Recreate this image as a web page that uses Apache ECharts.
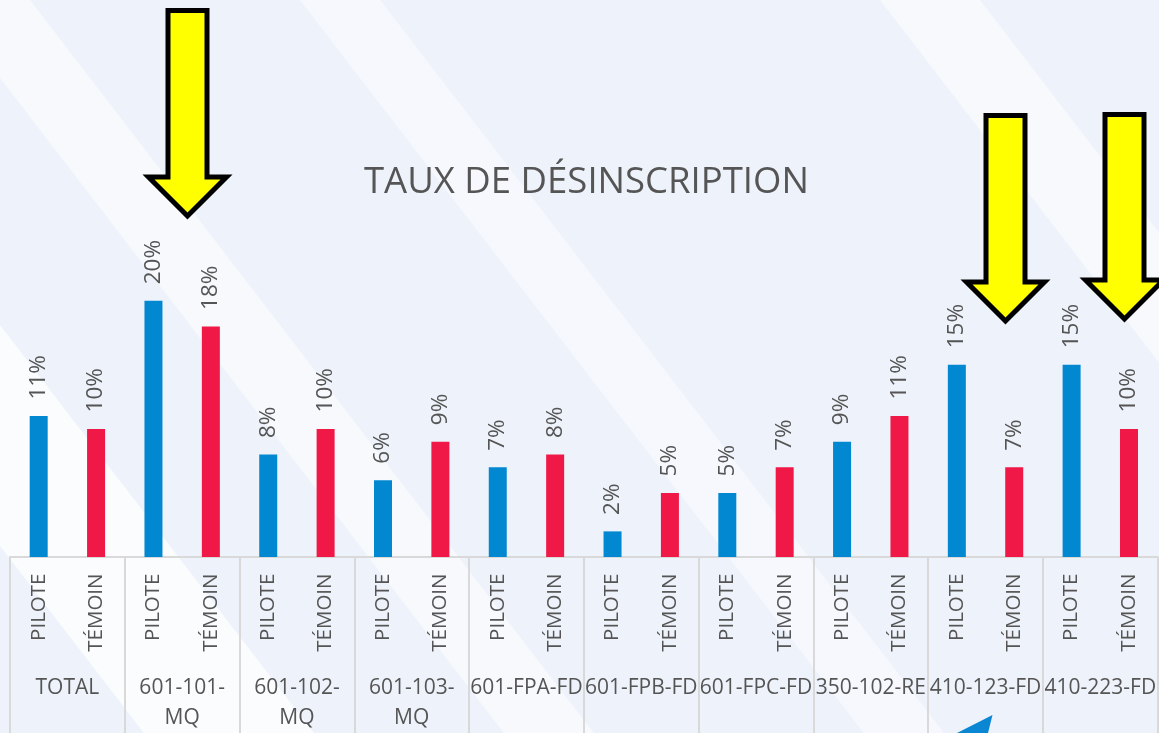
<!DOCTYPE html>
<html>
<head>
<meta charset="utf-8">
<script src="https://cdn.jsdelivr.net/npm/echarts@6/dist/echarts.min.js"></script>
<style>
  html, body { margin: 0; padding: 0; }
  #chart { width: 1159px; height: 733px; }
</style>
</head>
<body>
<div id="chart"></div>
<script>
// groupes et sous-catégories
const groups = ['TOTAL', '601-101-MQ', '601-102-MQ', '601-103-MQ', '601-FPA-FD',
  '601-FPB-FD', '601-FPC-FD', '350-102-RE', '410-123-FD', '410-223-FD'];
const subLabels = ['PILOTE', 'TÉMOIN'];
// taux de désinscription (%)
const pilote = [11, 20, 8, 6, 7, 2, 5, 9, 15, 15];
const temoin = [10, 18, 10, 9, 8, 5, 7, 11, 7, 10];

const subCats = groups.flatMap(() => subLabels);
const piloteData = [];
const temoinData = [];
groups.forEach((g, i) => {
  piloteData.push(pilote[i], '-');
  temoinData.push('-', temoin[i]);
});

const font = '"Open Sans", "Noto Sans", sans-serif';
const grey = '#555555';

// flèches d'annotation (pixels)
function arrow(cx, top, headY, shaftHalf, headHalf) {
  return [
    [cx - shaftHalf, top], [cx + shaftHalf, top], [cx + shaftHalf, headY],
    [cx + headHalf, headY], [cx, headY + headHalf], [cx - headHalf, headY],
    [cx - shaftHalf, headY]
  ];
}
function yellowArrow(pts) {
  return {
    type: 'polygon', z: 100, shape: { points: pts },
    style: { fill: '#ffff00', stroke: '#000', lineWidth: 5, lineJoin: 'miter' }
  };
}
function band(x0, w, a) {
  // bande blanche diagonale du fond
  const k = 1.3, h = 733;
  return {
    type: 'polygon', z: -5, silent: true,
    shape: { points: [[x0, 0], [x0 + w, 0], [x0 + w + h / k, h], [x0 + h / k, h]] },
    style: { fill: 'rgba(255,255,255,' + a + ')' }
  };
}

const myChart = echarts.init(document.getElementById('chart'));
const option = {
  backgroundColor: '#eef3fb',
  animation: false,
  title: {
    text: 'TAUX DE DÉSINSCRIPTION',
    left: 359,
    top: 159,
    textStyle: { fontFamily: font, fontSize: 36.5, fontWeight: 'normal', color: grey }
  },
  graphic: [
    band(-420, 170, 0.7),
    band(-60, 90, 0.5),
    band(300, 80, 0.45),
    band(880, 100, 0.5),
    yellowArrow(arrow(187.5, 10.5, 177, 19.5, 39)),
    yellowArrow(arrow(1005.5, 115.5, 282, 19.5, 39)),
    yellowArrow(arrow(1124.5, 114.5, 280, 19.5, 39)),
    {
      type: 'polygon', z: 100,
      shape: { points: [[957, 733], [992.5, 715], [988, 733]] },
      style: { fill: '#0a86d2' }
    }
  ],
  grid: { left: 10, top: 44.5, width: 1150, height: 516.5 },
  xAxis: [
    {
      type: 'category',
      data: subCats,
      axisLine: { lineStyle: { color: '#d9d9d9', width: 2 } },
      axisTick: { show: false },
      axisLabel: {
        interval: 0, rotate: 90, margin: 16.5,
        fontFamily: font, fontSize: 20.5, color: grey
      }
    },
    {
      type: 'category',
      data: groups,
      position: 'bottom',
      axisLine: { show: false },
      axisTick: { show: true, length: 180, lineStyle: { color: '#d9d9d9', width: 2 } },
      axisLabel: {
        interval: 0, margin: 116, lineHeight: 30,
        fontFamily: font, fontSize: 21, color: grey,
        formatter: (v) => v.replace(/-MQ$/, '-\nMQ')
      }
    }
  ],
  yAxis: { type: 'value', min: 0, max: 40, show: false },
  series: [
    {
      name: 'PILOTE', type: 'bar', stack: 'taux', barWidth: 18,
      data: piloteData,
      itemStyle: { color: '#0288d1' },
      label: {
        show: true, position: 'top', rotate: 90, distance: 15, offset: [1.5, 0],
        align: 'left', verticalAlign: 'middle',
        fontFamily: font, fontSize: 22.5, color: grey, formatter: '{c}%'
      }
    },
    {
      name: 'TÉMOIN', type: 'bar', stack: 'taux', barWidth: 18,
      data: temoinData,
      itemStyle: { color: '#ef1847' },
      label: {
        show: true, position: 'top', rotate: 90, distance: 15, offset: [1.5, 0],
        align: 'left', verticalAlign: 'middle',
        fontFamily: font, fontSize: 22.5, color: grey, formatter: '{c}%'
      }
    }
  ]
};
myChart.setOption(option);
window.onresize = () => { myChart.resize(); };
</script>
</body>
</html>
